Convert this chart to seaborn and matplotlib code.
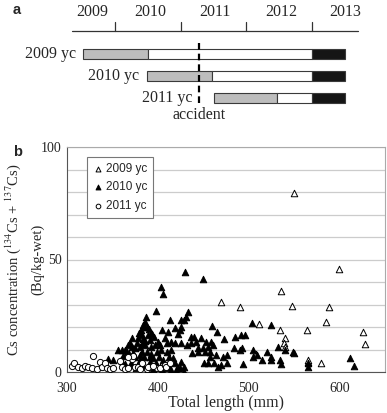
import numpy as np
import pandas as pd
import seaborn as sns
import matplotlib.pyplot as plt
from matplotlib.ticker import MultipleLocator

# ---- panel a: life history of each year class ----
years = ['2009', '2010', '2011', '2012', '2013']
year_pos = [0.65, 1.53, 2.52, 3.53, 4.5]
year_ticks = [1, 2, 3, 4]
cohorts = ['2009 yc', '2010 yc', '2011 yc']
stage_start = [0.51, 1.49, 2.50]
gray_end = [1.50, 2.48, 3.47]
white_end = [4.0, 4.0, 4.0]
black_end = [4.5, 4.5, 4.5]
accident_t = 2.28

# ---- panel b: Cs concentration vs total length ----
yc2009_len = [550, 599, 535, 548, 588, 585, 534, 564, 626, 540, 539, 628, 540,
              565, 580, 470, 490, 511, 508, 565]
yc2009_cs = [79.4, 45.6, 36.0, 29.5, 28.7, 22.2, 18.7, 18.5, 17.9, 15.1, 12.7, 12.4, 11.0,
             4.4, 4.1, 31.0, 28.7, 21.5, 8.0, 5.5]

yc2010_len = [403, 406, 398, 386, 388, 385, 382, 389, 378, 391, 400, 405, 411, 413, 419,
              422, 410, 419, 367, 371, 356, 360, 364, 375, 380, 386, 393, 397, 402, 382,
              388, 393, 399, 404, 410, 415, 385, 391, 395, 401, 406, 412, 417, 398, 411,
              419, 422, 402, 375, 380, 391,
              433, 431, 429, 426, 426, 424, 460, 465, 473, 485, 492, 436, 440, 447, 442,
              436, 432, 425, 453, 459, 455, 461, 450, 444, 438, 444, 452, 457, 464, 457,
              484, 490, 472, 476, 451, 455, 462, 466, 470, 476, 425, 429, 424, 429,
              504, 524, 496, 493, 505, 520, 532, 540, 549, 550, 505, 509, 515, 525, 525,
              534, 536, 494, 565, 565, 611, 616,
              430, 450, 345, 351, 359, 366, 369, 372, 420, 410, 415, 395, 405, 383, 376,
              388, 364, 370, 384, 392, 396, 380, 408, 414,
              381, 384, 387, 377, 373, 390, 394, 379, 383, 362, 368, 386]
yc2010_cs = [38.0, 34.5, 27.2, 22.4, 20.1, 20.1, 16.4, 16.4, 15.0, 14.2, 13.5, 18.7, 17.9, 23.1, 19.4,
             16.9, 12.7, 12.7, 12.0, 11.3, 9.8, 9.8, 9.8, 10.5, 11.3, 12.0, 11.3, 12.0, 12.0, 9.0,
             9.0, 8.2, 9.0, 9.8, 9.0, 9.8, 6.8, 6.8, 6.1, 6.8, 5.3, 6.8, 6.1, 3.8, 3.1,
             3.8, 1.6, 2.4, 6.8, 5.3, 4.5,
             26.5, 24.6, 23.1, 23.1, 20.1, 18.7, 20.6, 17.9, 14.7, 15.7, 16.4, 15.7, 15.7, 15.2, 13.5,
             12.7, 12.0, 12.7, 13.5, 13.5, 11.3, 12.0, 10.5, 10.5, 8.3, 9.0, 9.0, 9.0, 7.5, 6.8,
             10.5, 9.8, 6.8, 7.5, 3.8, 3.8, 3.8, 2.4, 3.1, 3.8, 4.5, 2.4, 1.6, 0.2,
             22.0, 21.0, 16.4, 10.5, 9.8, 9.0, 11.2, 9.8, 9.0, 8.3, 6.8, 7.5, 5.3, 6.8, 5.3,
             5.3, 3.6, 3.6, 2.4, 4.2, 6.4, 2.7,
             44.3, 41.3, 5.8, 5.3, 5.3, 9.0, 12.7, 15.0, 0.9, 2.0, 1.0, 1.5, 0.8, 3.0, 2.0,
             0.5, 3.5, 4.0, 14.5, 17.5, 15.5, 7.5, 15.0, 13.5,
             18.5, 21.0, 24.5, 13.0, 8.5, 19.0, 17.0, 17.5, 12.5, 7.0, 8.0, 14.0]

yc2011_len = [305, 308, 312, 316, 320, 323, 329, 327, 333, 336, 338, 342, 344, 347, 351,
              358, 360, 364, 367, 371, 373, 375, 378, 380, 388, 389, 399, 402, 408, 409,
              413, 367, 383, 395]
yc2011_cs = [2.7, 3.9, 2.4, 1.6, 2.7, 2.1, 7.1, 1.6, 1.2, 4.6, 2.1, 3.9, 1.6, 1.2, 1.6,
             4.7, 2.1, 1.2, 1.6, 5.6, 7.1, 2.1, 2.1, 1.2, 1.2, 2.1, 1.8, 1.6, 3.1, 2.1,
             3.9, 6.8, 4.0, 2.5]

df = pd.concat([
    pd.DataFrame({'length': yc2009_len, 'cs': yc2009_cs, 'yc': '2009 yc'}),
    pd.DataFrame({'length': yc2010_len, 'cs': yc2010_cs, 'yc': '2010 yc'}),
    pd.DataFrame({'length': yc2011_len, 'cs': yc2011_cs, 'yc': '2011 yc'}),
])

sns.set_style('white')
plt.rcParams['font.family'] = ['Liberation Serif', 'DejaVu Serif']
plt.rcParams['mathtext.fontset'] = 'stix'

fig = plt.figure(figsize=(3.87, 4.13), dpi=100)

# ---------- panel a ----------
ax_a = fig.add_axes([0, 1 - 140 / 413, 1, 140 / 413])
ax_a.set_xlim(-0.75, 5.14)
ax_a.set_ylim(3.9, -2.45)
ax_a.axis('off')

ax_a.plot([0.35, 4.7], [-1.05, -1.05], color='#333333', lw=0.9)
for t in year_ticks:
    ax_a.plot([t, t], [-1.45, -1.05], color='#333333', lw=0.9)
for t, lab in zip(year_pos, years):
    ax_a.text(t, -1.9, lab, ha='center', va='center', fontsize=11.5)

rows = np.arange(len(cohorts))
edge = dict(edgecolor='#3a3a3a', linewidth=0.8, height=0.45)
ax_a.barh(rows, np.subtract(gray_end, stage_start), left=stage_start, color='#bdbdbd', **edge)
ax_a.barh(rows, np.subtract(white_end, gray_end), left=gray_end, color='white', **edge)
ax_a.barh(rows, np.subtract(black_end, white_end), left=white_end, color='#151515', **edge)
label_gap = [0.1, 0.13, 0.32]
for r, s, g, lab in zip(rows, stage_start, label_gap, cohorts):
    ax_a.text(s - g, r, lab, ha='right', va='center', fontsize=11.5)

ax_a.plot([accident_t, accident_t], [-0.5, 2.3], color='black', lw=1.6, dashes=(3, 1.8))
ax_a.text(accident_t, 2.75, 'accident', ha='center', va='center', fontsize=11.5)

fig.text(13 / 387, 1 - 10 / 413, 'a', fontsize=10.5, fontweight='bold',
         family=['Liberation Sans'], ha='left', va='center')
fig.text(13 / 387, 1 - 152 / 413, 'b', fontsize=10.5, fontweight='bold',
         family=['Liberation Sans'], ha='left', va='center')

# ---------- panel b ----------
ax = fig.add_axes([67 / 387, 41 / 413, 318 / 387, 225 / 413])
styles = {
    '2009 yc': dict(marker='^', facecolor='white', edgecolor='black', s=22, linewidth=0.7),
    '2010 yc': dict(marker='^', facecolor='black', edgecolor='black', s=22, linewidth=0.7),
    '2011 yc': dict(marker='o', facecolor='white', edgecolor='black', s=20, linewidth=0.7),
}
for name, st in styles.items():
    sub = df[df['yc'] == name]
    sns.scatterplot(data=sub, x='length', y='cs', ax=ax, label=name, zorder=3, **st)

ax.set_xlim(300, 650)
ax.set_ylim(0, 100)
ax.set_xticks([300, 400, 500, 600])
ax.yaxis.set_major_locator(MultipleLocator(50))
ax.yaxis.set_minor_locator(MultipleLocator(10))
ax.grid(True, which='both', axis='y', color='#cccccc', lw=0.9)
ax.grid(False, axis='x')
ax.tick_params(axis='both', which='both', direction='out', length=3, width=0.7,
               color='#555555', labelsize=10)
ax.tick_params(axis='y', which='both', pad=1)
ax.tick_params(axis='x', which='both', pad=4)
ax.tick_params(axis='y', which='minor', length=2.5)
for side in ['top', 'right']:
    ax.spines[side].set_color('#aaaaaa')
for side in ['left', 'bottom']:
    ax.spines[side].set_color('#555555')
for sp in ax.spines.values():
    sp.set_linewidth(0.8)

ax.set_xlabel('Total length (mm)', fontsize=11.5, labelpad=0.5)
ax.set_ylabel('Cs concentration ($^{134}$Cs + $^{137}$Cs)\n(Bq/kg-wet)',
              fontsize=10.5, linespacing=1.7)
ax.yaxis.set_label_coords(-0.072, 0.5)

leg = ax.legend(loc='upper left', bbox_to_anchor=(0.063, 0.956), frameon=True,
                fancybox=False, edgecolor='#777777', framealpha=1, markerscale=0.75,
                handletextpad=0.3, borderpad=0.5, labelspacing=0.55, handlelength=0.8,
                borderaxespad=0, prop={'family': ['Liberation Sans'], 'size': 8.5})
leg.get_frame().set_linewidth(0.8)

fig.savefig('out.png', dpi=100)
